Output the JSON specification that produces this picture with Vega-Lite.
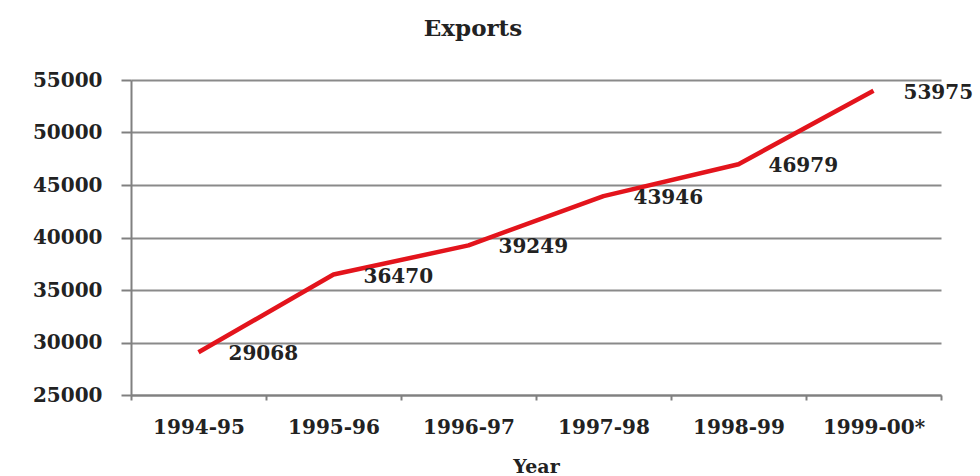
{
  "$schema": "https://vega.github.io/schema/vega-lite/v6.json",
  "width": 810,
  "height": 315,
  "autosize": {"type": "none"},
  "padding": {"left": 131, "top": 80, "right": 39, "bottom": 81},
  "background": "white",
  "title": {
    "text": "Exports",
    "font": "DejaVu Serif",
    "fontSize": 23,
    "fontWeight": "bold",
    "color": "#222222",
    "anchor": "middle",
    "frame": "group",
    "baseline": "alphabetic",
    "offset": 11,
    "dx": -63
  },
  "data": {
    "values": [
      {"year": "1994-95", "exports": 29068},
      {"year": "1995-96", "exports": 36470},
      {"year": "1996-97", "exports": 39249},
      {"year": "1997-98", "exports": 43946},
      {"year": "1998-99", "exports": 46979},
      {"year": "1999-00*", "exports": 53975}
    ]
  },
  "encoding": {
    "x": {
      "field": "year",
      "type": "nominal",
      "sort": null,
      "bandPosition": 0.5,
      "scale": {"type": "band", "paddingInner": 0, "paddingOuter": 0},
      "axis": {
        "title": "Year",
        "labelAngle": 0,
        "tickBand": "extent",
        "domainColor": "#808080",
        "domainWidth": 2,
        "tickColor": "#808080",
        "tickWidth": 2,
        "tickSize": 5,
        "labelPadding": 17,
        "labelFont": "DejaVu Serif",
        "labelFontWeight": "bold",
        "labelFontSize": 20,
        "labelColor": "#222222",
        "titleFont": "DejaVu Serif",
        "titleFontWeight": "bold",
        "titleFontSize": 19,
        "titleColor": "#222222",
        "titleBaseline": "alphabetic",
        "titlePadding": 35,
        "grid": false
      }
    },
    "y": {
      "field": "exports",
      "type": "quantitative",
      "scale": {"domain": [25000, 55000], "nice": false, "zero": false},
      "axis": {
        "title": null,
        "values": [25000, 30000, 35000, 40000, 45000, 50000, 55000],
        "format": "d",
        "grid": true,
        "gridColor": "#8a8a8a",
        "gridWidth": 2,
        "domainColor": "#808080",
        "domainWidth": 2,
        "tickColor": "#808080",
        "tickWidth": 2,
        "tickSize": 10,
        "labelPadding": 19,
        "labelFont": "DejaVu Serif",
        "labelFontWeight": "bold",
        "labelFontSize": 20,
        "labelColor": "#222222"
      }
    }
  },
  "layer": [
    {
      "mark": {"type": "line", "color": "#e3141c", "strokeWidth": 4.5, "interpolate": "linear", "strokeJoin": "round"}
    },
    {
      "mark": {
        "type": "text",
        "align": "left",
        "baseline": "middle",
        "dx": 30,
        "dy": 2,
        "font": "DejaVu Serif",
        "fontWeight": "bold",
        "fontSize": 20,
        "color": "#222222"
      },
      "encoding": {"text": {"field": "exports", "type": "quantitative", "format": "d"}}
    }
  ],
  "config": {"view": {"stroke": null}}
}
